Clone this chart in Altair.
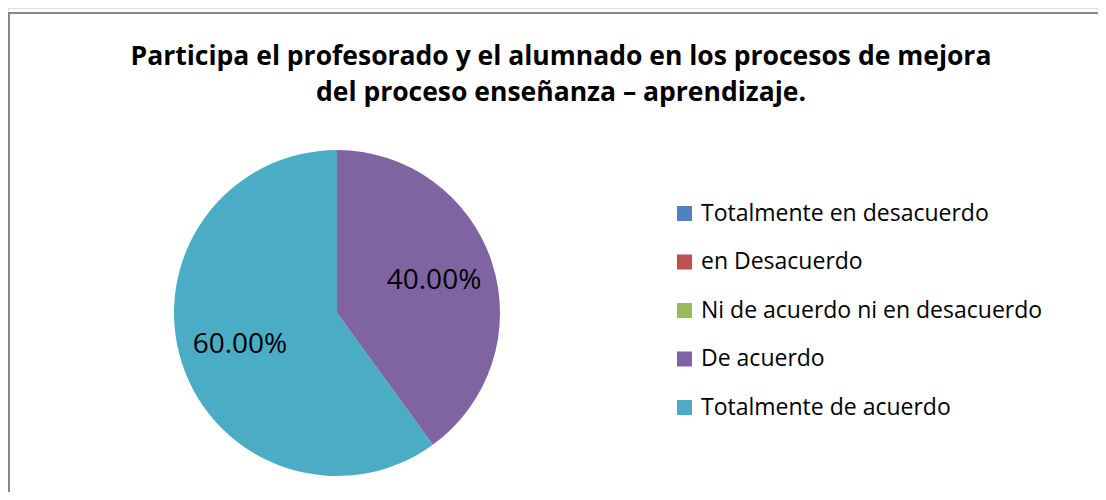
import altair as alt
import pandas as pd

categories = ["Totalmente en desacuerdo", "en Desacuerdo", "Ni de acuerdo ni en desacuerdo",
              "De acuerdo", "Totalmente de acuerdo"]
values = [0.0, 0.0, 0.0, 0.40, 0.60]
colors = ["#4F81BD", "#C0504D", "#9BBB59", "#8064A2", "#4BACC6"]
title_lines = ["Participa el profesorado y el alumnado en los procesos de mejora",
               "del proceso enseñanza – aprendizaje."]

FONT = "Open Sans"

df = pd.DataFrame({"categoria": categories, "valor": values, "orden": list(range(len(categories)))})
df["etiqueta"] = [f"{v*100:.2f}%" if v > 0 else "" for v in values]

base = alt.Chart(df).encode(
    theta=alt.Theta("valor:Q", stack=True),
    order=alt.Order("orden:Q"),
)

color = alt.Color(
    "categoria:N",
    scale=alt.Scale(domain=categories, range=colors),
    sort=categories,
    legend=alt.Legend(
        title=None, orient="none", legendX=665, legendY=194,
        symbolType="square", symbolSize=225, symbolStrokeWidth=0,
        labelFontSize=23, labelFont=FONT, labelColor="#000000",
        labelOffset=5, rowPadding=24.5, padding=0, labelLimit=450,
    ),
)

pie = base.mark_arc(radius=163, stroke=None).encode(
    color=color,
    x=alt.value(329), y=alt.value(305),
)

labels = base.transform_filter("datum.valor > 0").mark_text(
    radius=102, fontSize=28, font=FONT, color="#000000"
).encode(
    text="etiqueta:N",
    x=alt.value(329), y=alt.value(305),
)

frame = alt.Chart(alt.Data(values=[{}]))
top_line = frame.mark_rule(color="#878787", strokeWidth=2).encode(
    x=alt.value(0), x2=alt.value(1090), y=alt.value(5))
left_line = frame.mark_rule(color="#878787", strokeWidth=2).encode(
    x=alt.value(1), y=alt.value(5), y2=alt.value(484))

chart = alt.layer(top_line, left_line, pie, labels).properties(
    width=1090, height=484,
    autosize=alt.AutoSizeParams(type="none"),
    padding=0,
    title=alt.Title(title_lines, font=FONT, fontSize=26.5, fontWeight="bold",
                    color="#000000", anchor="middle", offset=-98, lineHeight=36, dx=8),
).configure_view(stroke=None).configure(background="white")

chart.save("out.html", embed_options={"renderer": "svg", "actions": False})
